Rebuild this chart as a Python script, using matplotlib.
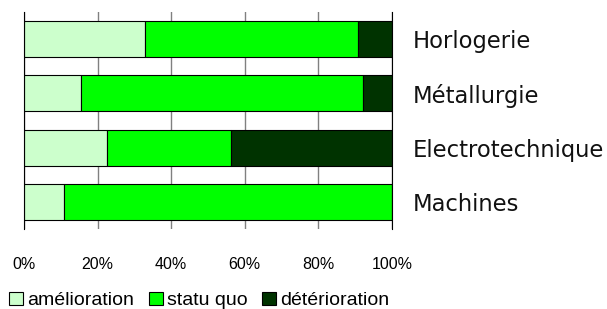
import matplotlib
matplotlib.use("Agg")
from matplotlib import pyplot as plt
from matplotlib.patches import Patch
import numpy as np

categories = ["Horlogerie", "Métallurgie", "Electrotechnique", "Machines"]
amelioration = [33.0, 15.5, 22.6, 10.9]
statu_quo = [57.7, 76.6, 33.6, 89.1]
deterioration = [9.3, 7.9, 43.8, 0.0]
series_names = ["amélioration", "statu quo", "détérioration"]
colors = ["#CCFFCC", "#00FF00", "#003300"]

fig = plt.figure(figsize=(6.07, 3.09), dpi=100)
ax = fig.add_axes([24 / 607, 80 / 309, 368 / 607, 217 / 309])

y = np.arange(len(categories))
left = np.zeros(len(categories))
for vals, name, c in zip([amelioration, statu_quo, deterioration], series_names, colors):
    ax.barh(y, vals, left=left, height=0.66, color=c, edgecolor="black", linewidth=0.8, label=name)
    left += np.array(vals)

ax.set_xlim(0, 100)
ax.set_ylim(3.5, -0.5)
ax.set_xticks(range(0, 101, 20))
ax.set_xticklabels([f"{v}%" for v in range(0, 101, 20)], fontfamily="Liberation Sans", fontsize=11.5)
ax.tick_params(axis="x", length=0, pad=20)
ax.grid(axis="x", color="#808080", linewidth=1)
ax.set_axisbelow(True)

ax.yaxis.tick_right()
ax.set_yticks(y)
ax.set_yticklabels(categories, fontfamily="DejaVu Sans", fontsize=16.3, color="#111111")
ax.tick_params(axis="y", length=0, pad=15)

ax.spines["top"].set_visible(False)
ax.spines["bottom"].set_visible(False)
ax.spines["left"].set_color("black")
ax.spines["right"].set_color("black")

handles = [Patch(facecolor=c, edgecolor="black", linewidth=0.8) for c in colors]
fig.legend(handles, series_names, loc="lower left", bbox_to_anchor=(-0.007, -0.045), ncol=3,
           frameon=False, prop={"family": "Liberation Sans", "size": 14},
           handlelength=0.72, handleheight=0.72, handletextpad=0.2, columnspacing=0.75,
           borderpad=0.2)

fig.savefig("out.png", dpi=100)
